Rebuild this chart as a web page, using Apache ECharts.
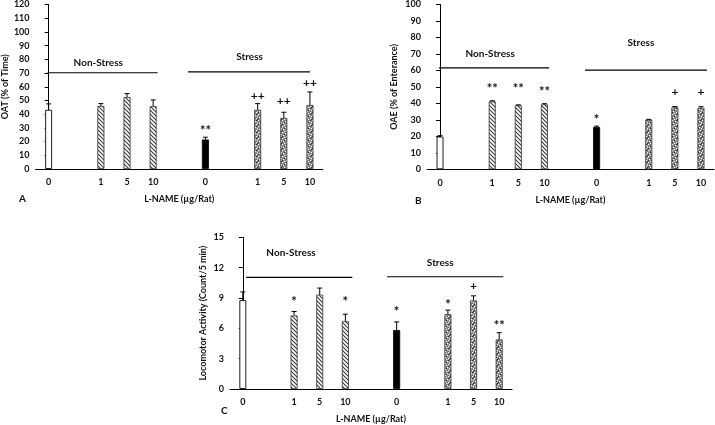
<!DOCTYPE html>
<html><head><meta charset="utf-8">
<script src="https://cdn.jsdelivr.net/npm/echarts@6/dist/echarts.min.js"></script>
<style>html,body{margin:0;padding:0;background:#fff}#c{width:715px;height:425px}</style>
</head><body><div id="c"></div>
<script>
// ---------- data ----------
const categories = ['0', '', '1', '5', '10', '', '0', '', '1', '5', '10'];
const barKinds = ['open', '', 'hatch', 'hatch', 'hatch', '', 'solid', '', 'dots', 'dots', 'dots'];

const oatValues = [43.2, null, 46.0, 52.5, 45.8, null, 21.5, null, 43.2, 37.3, 46.7];
const oatSem    = [4.3, null, 1.7, 2.5, 4.6, null, 1.7, null, 4.5, 4.1, 9.5];
const oatMarks  = ['', '', '', '', '', '', '**', '', '++', '++', '++'];
const oatMarkY  = [0, 0, 0, 0, 0, 0, 30.3, 0, 53.5, 49.2, 63];
const oatGroupText = ['Non-Stress', 'Stress'];
const oatGroupTextX = [1.9, 7.69];
const oatGroupTextY = [77.8, 82.2];
const oatGroupLines = [[-0.04, 4.17, 70.2], [5.34, 10.0, 70.9]];

const oaeValues = [19.9, null, 41.2, 38.8, 39.4, null, 25.6, null, 30.0, 37.6, 37.3];
const oaeSem    = [0.5, null, 0.4, 0.3, 0.4, null, 0.6, null, 0.3, 0.5, 0.7];
const oaeMarks  = ['', '', '**', '**', '**', '', '*', '', '', '+', '+'];
const oaeMarkY  = [0, 0, 51.2, 51.2, 49.2, 0, 32.3, 0, 0, 46.8, 46.8];
const oaeGroupText = ['Non-Stress', 'Stress'];
const oaeGroupTextX = [1.92, 7.7];
const oaeGroupTextY = [70.2, 76.7];
const oaeGroupLines = [[-0.04, 4.18, 61.6], [5.56, 10.23, 60.2]];

const locoValues = [8.79, null, 7.27, 9.33, 6.70, null, 5.83, null, 7.40, 8.76, 4.90];
const locoSem    = [0.81, null, 0.39, 0.65, 0.70, null, 0.80, null, 0.40, 0.45, 0.67];
const locoMarks  = ['', '', '*', '', '*', '', '*', '', '*', '+', '**'];
const locoMarkY  = [0, 0, 9.0, 0, 8.95, 0, 8.0, 0, 8.7, 10.18, 6.6];
const locoGroupText = ['Non-Stress', 'Stress'];
const locoGroupTextX = [1.88, 7.7];
const locoGroupTextY = [13.5, 12.5];
const locoGroupLines = [[0.13, 4.27, 11.04], [5.63, 10.16, 11.1]];

const yTitles = ['OAT (% of Time)', 'OAE (% of Enterance)', 'Locomotor Activity (Count/5 min)'];
const xTitle = 'L-NAME (µg/Rat)';
const panelLetters = ['A', 'B', 'C'];

// ---------- patterns ----------
function makeHatch() {
  const c = document.createElement('canvas'); c.width = 4; c.height = 4;
  const g = c.getContext('2d');
  g.fillStyle = '#ffffff'; g.fillRect(0, 0, 4, 4);
  g.strokeStyle = '#3a3a3a'; g.lineWidth = 1.1;
  g.beginPath(); g.moveTo(-1, -1); g.lineTo(5, 5); g.stroke();
  g.beginPath(); g.moveTo(-1, 3); g.lineTo(1, 5); g.stroke();
  g.beginPath(); g.moveTo(3, -1); g.lineTo(5, 1); g.stroke();
  return c;
}
function makeDots() {
  const c = document.createElement('canvas'); c.width = 6; c.height = 6;
  const g = c.getContext('2d');
  g.fillStyle = '#7a7a7a'; g.fillRect(0, 0, 6, 6);
  g.fillStyle = '#ffffff';
  [[0,0],[3,1],[1,3],[4,4],[5,2],[2,5]].forEach(p => g.fillRect(p[0], p[1], 1.3, 1.3));
  g.fillStyle = '#333333';
  [[2,2],[5,5],[0,4],[4,0]].forEach(p => g.fillRect(p[0], p[1], 1, 1));
  return c;
}
const hatchPat = { image: makeHatch(), repeat: 'repeat' };
const dotPat = { image: makeDots(), repeat: 'repeat' };
function barStyle(kind) {
  if (kind === 'open') return { color: '#ffffff', borderColor: '#222', borderWidth: 1 };
  if (kind === 'hatch') return { color: hatchPat, borderColor: '#333', borderWidth: 0.8 };
  if (kind === 'solid') return { color: '#000000', borderColor: '#000', borderWidth: 0.8 };
  return { color: dotPat, borderColor: '#333', borderWidth: 0.8 };
}

const FONT = 'Lato, "Liberation Sans", sans-serif';
const grids = [
  { left: 33, top: 4.5, width: 290, height: 164.5 },
  { left: 427, top: 3.3, width: 287, height: 166 },
  { left: 230, top: 237.3, width: 282, height: 155.4 }
];
const yMax = [120, 100, 15];
const yInt = [10, 10, 3];
const yNameGap = [20, 28, 22];
const panels = [
  { v: oatValues, s: oatSem, m: oatMarks, my: oatMarkY, gt: oatGroupText, gx: oatGroupTextX, gy: oatGroupTextY, gl: oatGroupLines },
  { v: oaeValues, s: oaeSem, m: oaeMarks, my: oaeMarkY, gt: oaeGroupText, gx: oaeGroupTextX, gy: oaeGroupTextY, gl: oaeGroupLines },
  { v: locoValues, s: locoSem, m: locoMarks, my: locoMarkY, gt: locoGroupText, gx: locoGroupTextX, gy: locoGroupTextY, gl: locoGroupLines }
];

const xAxes = [], yAxes = [], series = [];
panels.forEach((P, k) => {
  xAxes.push({
    type: 'category', gridIndex: k, data: categories,
    axisLine: { lineStyle: { color: '#000', width: 1 } },
    axisTick: { show: false },
    axisLabel: { interval: 0, color: '#111', fontFamily: FONT, fontWeight: 'bold', fontSize: 9, margin: 9 },
    name: xTitle, nameLocation: 'middle', nameGap: 26,
    nameTextStyle: { color: '#111', fontFamily: FONT, fontWeight: 'bold', fontSize: 9 }
  });
  xAxes.push({ type: 'value', gridIndex: k, min: -0.5, max: 10.5, show: false });
  yAxes.push({
    type: 'value', gridIndex: k, min: 0, max: yMax[k], interval: yInt[k],
    axisLine: { show: true, lineStyle: { color: '#000', width: 1 } },
    axisTick: { show: true, length: 4, lineStyle: { color: '#000' } },
    splitLine: { show: false },
    axisLabel: { color: '#111', fontFamily: FONT, fontWeight: 'bold', fontSize: 9, margin: 6 },
    name: yTitles[k], nameLocation: 'middle', nameGap: yNameGap[k],
    nameTextStyle: { color: '#111', fontFamily: FONT, fontWeight: 'bold', fontSize: 9 }
  });
  series.push({
    type: 'bar', xAxisIndex: 2 * k, yAxisIndex: k, barWidth: 7, silent: true,
    data: P.v.map((v, i) => v == null ? null : { value: v, itemStyle: barStyle(barKinds[i]) })
  });
  const idx = P.v.map((v, i) => i).filter(i => P.v[i] != null);
  series.push({
    type: 'custom', xAxisIndex: 2 * k, yAxisIndex: k, silent: true, z: 5,
    data: idx.map(i => [i, P.v[i], P.s[i]]),
    renderItem: function (params, api) {
      const i = api.value(0), v = api.value(1), s = api.value(2);
      const p0 = api.coord([i, v]), p1 = api.coord([i, v + s]);
      const st = { stroke: '#000', lineWidth: 1 };
      return { type: 'group', children: [
        { type: 'line', shape: { x1: p0[0], y1: p0[1], x2: p1[0], y2: p1[1] }, style: st },
        { type: 'line', shape: { x1: p1[0] - 2.5, y1: p1[1], x2: p1[0] + 2.5, y2: p1[1] }, style: st }
      ] };
    }
  });
  const mi = P.m.map((t, i) => i).filter(i => P.m[i] !== '');
  series.push({
    type: 'custom', xAxisIndex: 2 * k + 1, yAxisIndex: k, silent: true, z: 6,
    data: mi.map(i => [i, P.my[i], i]),
    renderItem: function (params, api) {
      const p = api.coord([api.value(0), api.value(1)]);
      const t = P.m[api.value(2)];
      const isStar = t.indexOf('*') >= 0;
      return { type: 'text', style: { text: t, x: p[0], y: p[1] + (isStar ? 3.5 : 0), align: 'center', verticalAlign: 'middle',
        font: 'bold ' + (isStar ? 13 : 12) + 'px ' + FONT, fill: '#111' } };
    }
  });
  series.push({
    type: 'custom', xAxisIndex: 2 * k + 1, yAxisIndex: k, silent: true, z: 6,
    data: P.gl.map(l => [l[0], l[1], l[2]]),
    renderItem: function (params, api) {
      const a = api.coord([api.value(0), api.value(2)]), b = api.coord([api.value(1), api.value(2)]);
      return { type: 'line', shape: { x1: a[0], y1: a[1], x2: b[0], y2: b[1] }, style: { stroke: '#000', lineWidth: 1.2 } };
    }
  });
  series.push({
    type: 'custom', xAxisIndex: 2 * k + 1, yAxisIndex: k, silent: true, z: 6,
    data: P.gt.map((t, j) => [P.gx[j], P.gy[j], j]),
    renderItem: function (params, api) {
      const p = api.coord([api.value(0), api.value(1)]);
      return { type: 'text', style: { text: P.gt[api.value(2)], x: p[0], y: p[1], align: 'center', verticalAlign: 'middle',
        font: 'bold 10px ' + FONT, fill: '#111' } };
    }
  });
});

const chart = echarts.init(document.getElementById('c'), null, { renderer: 'canvas' });
chart.setOption({
  animation: false,
  backgroundColor: '#fff',
  grid: grids,
  xAxis: xAxes,
  yAxis: yAxes,
  series: series,
  graphic: [
    { type: 'text', left: 19, top: 194, style: { text: panelLetters[0], font: 'bold 10px ' + FONT, fill: '#111' } },
    { type: 'text', left: 415, top: 196, style: { text: panelLetters[1], font: 'bold 10px ' + FONT, fill: '#111' } },
    { type: 'text', left: 221, top: 406, style: { text: panelLetters[2], font: 'bold 10px ' + FONT, fill: '#111' } }
  ]
});
</script></body></html>
